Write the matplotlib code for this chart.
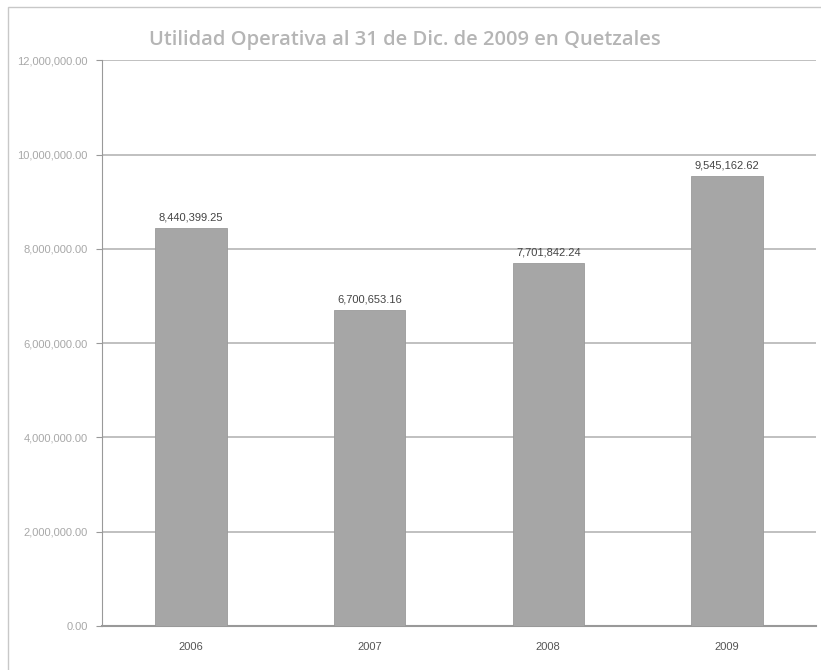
import matplotlib.pyplot as plt
from matplotlib.patches import Rectangle

years = ['2006', '2007', '2008', '2009']
utilidad = [8440399.25, 6700653.16, 7701842.24, 9545162.62]
yticks = [0, 2000000, 4000000, 6000000, 8000000, 10000000, 12000000]

plt.rcParams['font.family'] = ['Liberation Sans', 'DejaVu Sans']

fig = plt.figure(figsize=(8.21, 6.70), dpi=100)
fig.patches.append(Rectangle((0.010, -0.01), 0.995, 1.0, transform=fig.transFigure,
                             fill=False, edgecolor='#c8c8c8', linewidth=1.0))
ax = fig.add_axes([0.124, 0.066, 0.870, 0.844])

x = range(len(years))
bars = ax.bar(x, utilidad, width=0.4, color='#a6a6a6', edgecolor='#9a9a9a', linewidth=0.6, zorder=3)

for i, v in enumerate(utilidad):
    ax.text(i, v + 110000, f'{v:,.2f}', ha='center', va='bottom', fontsize=8, color='#444444')

ax.set_xlim(-0.5, 3.5)
ax.set_ylim(0, 12000000)
ax.set_yticks(yticks)
ax.set_yticklabels([f'{t:,.2f}' for t in yticks], fontsize=8, color='#a8a8a8')
ax.set_xticks(list(x))
ax.set_xticklabels(years, fontsize=8, color='#555555')
ax.tick_params(axis='x', length=0, pad=12)
ax.tick_params(axis='y', length=4, color='#999999', pad=6)

ax.grid(axis='y', color='#b5b5b5', linewidth=1.2, zorder=0)
for side in ['top', 'right']:
    ax.spines[side].set_visible(False)
ax.spines['left'].set_color('#999999')
ax.spines['bottom'].set_color('#999999')
ax.spines['bottom'].set_linewidth(1.5)

fig.text(0.493, 0.94, 'Utilidad Operativa al 31 de Dic. de 2009 en Quetzales',
         ha='center', va='center', fontsize=14.5, color='#b5b5b5',
         family=['Open Sans', 'DejaVu Sans'], weight='semibold')

fig.savefig('out.png', dpi=100)
